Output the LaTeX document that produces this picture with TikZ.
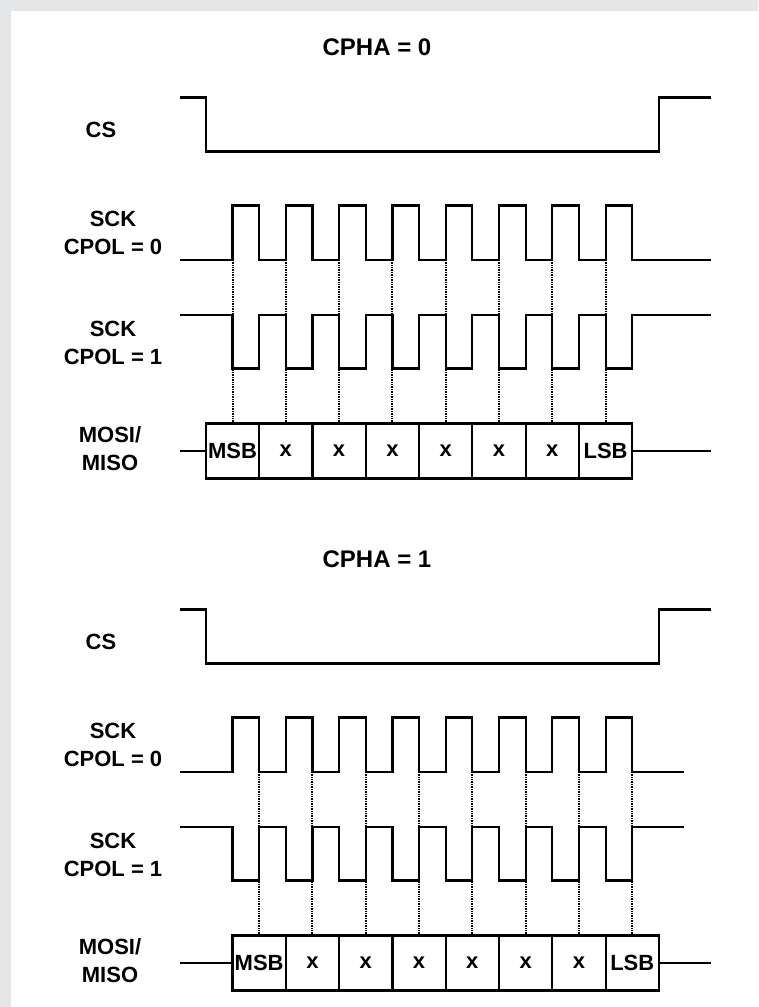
\documentclass[tikz,border=0pt]{standalone}
\usepackage{fontspec}
\setmainfont{Liberation Sans}
\usetikzlibrary{positioning}

\definecolor{panelgray}{RGB}{229,230,232}

\tikzset{
  wave/.style={line width=2.2pt, line join=miter},
  sync/.style={line width=2pt, black, dash pattern=on 1pt off 0.7pt},
  siglabel/.style={font=\fontsize{22}{28}\selectfont\bfseries, align=center},
  title/.style={font=\fontsize{24}{28}\selectfont\bfseries},
  bitcell/.style={draw, line width=2.2pt, minimum width=53.3pt, minimum height=55pt,
    inner sep=0pt, font=\fontsize{22}{24}\selectfont\bfseries}
}

\begin{document}
\begin{tikzpicture}[x=1pt, y=-1pt]

% background
\useasboundingbox (0,0) rectangle (758,1007);
\fill[panelgray] (0,0) rectangle (758,1007);
\fill[white] (11,11) rectangle (758,1007);

%% ---------------- CPHA = 0 ----------------
\node[title] (t0) at (377,47) {CPHA = 0};

% labels
\node[siglabel] (cs0) at (101,130) {CS};
\node[siglabel] (ck0) at (113,233) {SCK\\CPOL = 0};
\node[siglabel] (ckb0) at (113,343) {SCK\\CPOL = 1};
\node[siglabel] (md0) at (110,449) {MOSI/\\MISO};

% chip select
\draw[wave] (180,97.5) -- (206,97.5) -- (206,151.5) -- (658.9,151.5) -- (658.9,97.5) -- (711,97.5);

% clock, idle low
\draw[wave] (180,260) \foreach \k in {0,...,7} {
  -- ({232.5+53.3*\k},260) -- ({232.5+53.3*\k},205.5)
  -- ({259.15+53.3*\k},205.5) -- ({259.15+53.3*\k},260) } -- (711,260);

% clock, idle high
\draw[wave] (180,315) \foreach \k in {0,...,7} {
  -- ({232.5+53.3*\k},315) -- ({232.5+53.3*\k},368.5)
  -- ({259.15+53.3*\k},368.5) -- ({259.15+53.3*\k},315) } -- (711,315);

% data bits
\foreach \k/\bit in {0/MSB,1/x,2/x,3/x,4/x,5/x,6/x,7/LSB}
  \node[bitcell] (a\k) at ({232.5+53.3*\k},451) {\bit};
\coordinate (ain) at (180,451);
\coordinate (aout) at (711,451);
\draw[wave] (ain) -- (a0.west);
\draw[wave] (a7.east) -- (aout);

% sampling edges
\foreach \k in {0,...,7} {
  \draw[sync] ({232.5+53.3*\k},260) -- ({232.5+53.3*\k},315);
  \draw[sync] ({232.5+53.3*\k},368.5) -- (a\k.north);
}

%% ---------------- CPHA = 1 ----------------
\node[title] (t1) at (377,559) {CPHA = 1};

% labels
\node[siglabel] (cs1) at (101,642) {CS};
\node[siglabel] (ck1) at (113,745) {SCK\\CPOL = 0};
\node[siglabel] (ckb1) at (113,855) {SCK\\CPOL = 1};
\node[siglabel] (md1) at (110,961) {MOSI/\\MISO};

% chip select
\draw[wave] (180,609.5) -- (206,609.5) -- (206,663.5) -- (658.9,663.5) -- (658.9,609.5) -- (711,609.5);

% clock, idle low
\draw[wave] (180,772) \foreach \k in {0,...,7} {
  -- ({232.5+53.3*\k},772) -- ({232.5+53.3*\k},717.5)
  -- ({259.15+53.3*\k},717.5) -- ({259.15+53.3*\k},772) } -- (684,772);

% clock, idle high
\draw[wave] (180,827) \foreach \k in {0,...,7} {
  -- ({232.5+53.3*\k},827) -- ({232.5+53.3*\k},880.5)
  -- ({259.15+53.3*\k},880.5) -- ({259.15+53.3*\k},827) } -- (684,827);

% data bits
\foreach \k/\bit in {0/MSB,1/x,2/x,3/x,4/x,5/x,6/x,7/LSB}
  \node[bitcell] (b\k) at ({259.15+53.3*\k},963) {\bit};
\coordinate (bin) at (180,963);
\coordinate (bout) at (711,963);
\draw[wave] (bin) -- (b0.west);
\draw[wave] (b7.east) -- (bout);

% sampling edges
\foreach \k in {0,...,7} {
  \draw[sync] ({259.15+53.3*\k},772) -- ({259.15+53.3*\k},827);
  \draw[sync] ({259.15+53.3*\k},880.5) -- (b\k.north);
}

\end{tikzpicture}
\end{document}
